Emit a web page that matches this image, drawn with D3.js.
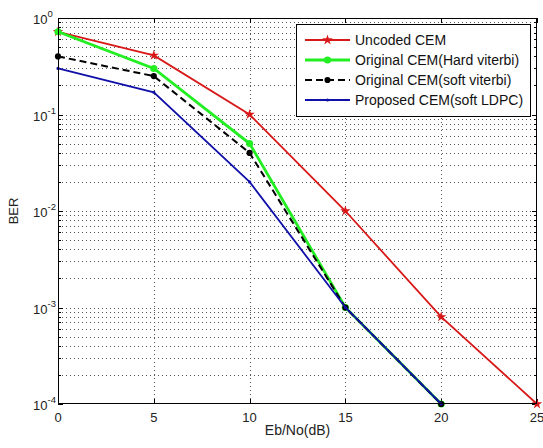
<!DOCTYPE html>
<html>
<head>
<meta charset="utf-8">
<script src="https://cdn.jsdelivr.net/npm/d3@7"></script>
<style>
  body { margin: 0; background: #fff; }
  svg { font-family: "Liberation Sans", Arial, sans-serif; }
</style>
</head>
<body>
<svg id="chart"></svg>
<script>
const width = 543;
const height = 448;

// data
const snr = [0, 5, 10, 15, 20, 25];
const uncoded = [0.72, 0.41, 0.1, 0.01, 8e-4, 1e-4];
const hardViterbi = [0.72, 0.3, 0.05, 1e-3, 1e-4];
const softViterbi = [0.4, 0.25, 0.04, 1e-3, 1e-4];
const softLdpc = [0.3, 0.17, 0.02, 1e-3, 1e-4];
const seriesNames = ['Uncoded CEM', 'Original CEM(Hard viterbi)', 'Original CEM(soft viterbi)', 'Proposed CEM(soft LDPC)'];
const xTicks = [0, 5, 10, 15, 20, 25];
const yExps = [0, -1, -2, -3, -4];

const margin = { top: 18, right: 6, bottom: 44, left: 58 };
const innerW = width - margin.left - margin.right;
const innerH = height - margin.top - margin.bottom;

const svg = d3.select('#chart')
    .attr('width', width)
    .attr('height', height);

const x = d3.scaleLinear().domain([0, 25]).range([margin.left, margin.left + innerW]);
const y = d3.scaleLog().domain([1e-4, 1]).range([margin.top + innerH, margin.top]);

const g = svg.append('g');

// grid lines (dotted), log minor lines too
const minorY = [];
for (let e = -4; e < 0; e++) {
    for (let k = 1; k <= 9; k++) minorY.push(k * Math.pow(10, e));
}
g.selectAll('.gy').data(minorY.filter(v => v > 1e-4))
    .enter().append('line')
    .attr('x1', x(0)).attr('x2', x(25))
    .attr('y1', d => Math.round(y(d)) + 0.5).attr('y2', d => Math.round(y(d)) + 0.5)
    .attr('stroke', '#555').attr('stroke-width', 1)
    .attr('stroke-dasharray', '1,3');
g.selectAll('.gx').data(xTicks.slice(1, -1))
    .enter().append('line')
    .attr('x1', d => Math.round(x(d)) + 0.5).attr('x2', d => Math.round(x(d)) + 0.5)
    .attr('y1', y(1)).attr('y2', y(1e-4))
    .attr('stroke', '#555').attr('stroke-width', 1)
    .attr('stroke-dasharray', '1,3');

// tick marks, pointing inside, on both sides
const tickG = svg.append('g').attr('stroke', '#000').attr('stroke-width', 1);
minorY.forEach(v => {
    const yy = Math.round(y(v)) + 0.5;
    const major = Math.abs(Math.log10(v) - Math.round(Math.log10(v))) < 1e-9;
    const len = major ? 5 : 3;
    tickG.append('line').attr('x1', x(0)).attr('x2', x(0) + len).attr('y1', yy).attr('y2', yy);
    tickG.append('line').attr('x1', x(25)).attr('x2', x(25) - len).attr('y1', yy).attr('y2', yy);
});
xTicks.forEach(v => {
    const xx = Math.round(x(v)) + 0.5;
    tickG.append('line').attr('x1', xx).attr('x2', xx).attr('y1', y(1e-4)).attr('y2', y(1e-4) - 5);
    tickG.append('line').attr('x1', xx).attr('x2', xx).attr('y1', y(1)).attr('y2', y(1) + 5);
});

// series
const line = d3.line().x(d => x(d[0])).y(d => y(d[1]));
const series = [
    { name: seriesNames[0], vals: uncoded, color: '#d81818', w: 1.8, dash: null, marker: d3.symbolStar, size: 34 },
    { name: seriesNames[1], vals: hardViterbi, color: '#22ee22', w: 2.8, dash: null, marker: d3.symbolCircle, size: 40 },
    { name: seriesNames[2], vals: softViterbi, color: '#000', w: 2, dash: '7,4', marker: d3.symbolCircle, size: 30 },
    { name: seriesNames[3], vals: softLdpc, color: '#1010a8', w: 1.8, dash: null, marker: d3.symbolCircle, size: 8 }
];

series.forEach(s => {
    const pts = s.vals.map((v, i) => [snr[i], v]);
    svg.append('path')
        .datum(pts)
        .attr('d', line)
        .attr('fill', 'none')
        .attr('stroke', s.color)
        .attr('stroke-width', s.w)
        .attr('stroke-dasharray', s.dash);
    svg.selectAll(null).data(pts).enter().append('path')
        .attr('transform', d => `translate(${x(d[0])},${y(d[1])})`)
        .attr('d', d3.symbol().type(s.marker).size(s.size))
        .attr('fill', s.color);
});

// axes box
svg.append('rect')
    .attr('x', x(0) + 0.5).attr('y', y(1) + 0.5)
    .attr('width', innerW - 1).attr('height', innerH - 1)
    .attr('fill', 'none').attr('stroke', '#000').attr('stroke-width', 1);

// x tick labels
svg.selectAll('.xl').data(xTicks).enter().append('text')
    .attr('x', d => x(d)).attr('y', y(1e-4) + 18)
    .attr('text-anchor', 'middle')
    .attr('font-size', 13).attr('fill', '#222')
    .text(d => d);

// y tick labels 10^n
yExps.forEach(e => {
    const t = svg.append('text')
        .attr('x', x(0) - 25).attr('y', y(Math.pow(10, e)) + 6)
        .attr('font-size', 13).attr('fill', '#222');
    t.append('tspan').text('10');
    t.append('tspan').attr('dy', -7).attr('font-size', 9.5).text(e);
});

// axis labels
svg.append('text')
    .attr('x', (x(0) + x(25)) / 2).attr('y', 435)
    .attr('text-anchor', 'middle').attr('font-size', 14).attr('fill', '#222')
    .text('Eb/No(dB)');
svg.append('text')
    .attr('transform', `translate(18,${(y(1) + y(1e-4)) / 2}) rotate(-90)`)
    .attr('text-anchor', 'middle').attr('font-size', 13).attr('fill', '#222')
    .text('BER');

// legend
const lg = svg.append('g');
lg.append('rect')
    .attr('x', 296.5).attr('y', 24.5).attr('width', 234).attr('height', 92)
    .attr('fill', '#fff').attr('stroke', '#000').attr('stroke-width', 1);
series.forEach((s, i) => {
    const ly = 40 + i * 20;
    lg.append('line')
        .attr('x1', 305).attr('x2', 350).attr('y1', ly).attr('y2', ly)
        .attr('stroke', s.color).attr('stroke-width', s.w)
        .attr('stroke-dasharray', s.dash);
    lg.append('path')
        .attr('transform', `translate(327.5,${ly})`)
        .attr('d', d3.symbol().type(s.marker).size(s.size))
        .attr('fill', s.color);
    lg.append('text')
        .attr('x', 355).attr('y', ly + 5)
        .attr('font-size', 14).attr('fill', '#111')
        .text(s.name);
});
</script>
</body>
</html>
